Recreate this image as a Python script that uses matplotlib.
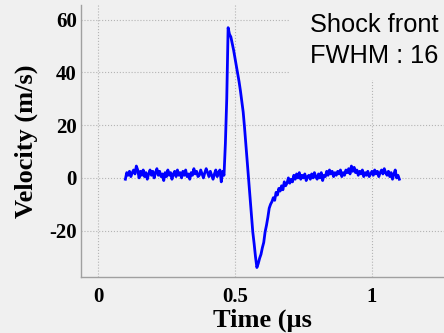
import numpy as np
import matplotlib
matplotlib.use("Agg")
import matplotlib.pyplot as plt
from matplotlib.patches import Rectangle

# velocity trace (m/s), sampled every 5 ns from 0.1 to 1.1 us
velocity = [
    -0.5, 2.0, 1.0, 2.5, 0.5, 2.0, 3.0, 1.5, 4.5, 3.0,
    0.0, 2.5, 1.0, 3.0, 0.5, 2.0, -0.5, 1.5, 3.0, 1.0,
    2.5, 0.0, 2.0, 3.5, 1.0, 2.5, 0.5, 1.5, -1.0, 2.0,
    0.5, 3.0, 1.0, 2.0, -0.5, 1.5, 2.5, 0.5, 3.0, 1.0,
    2.0, 0.0, 2.5, 1.0, 3.0, 0.5, 1.5, -0.5, 2.0, 1.0,
    3.5, 1.5, 2.5, 0.5, 1.0, 3.0, 1.5, 0.0, 2.0, 3.5,
    2.0, 0.5, 2.5, 1.0, -0.5, 1.5, 3.0, 0.5, 2.0, 3.0,
    -1.5, 2.5, 1.0, 13.0, 30.0, 57.0, 54.5, 53.5, 51.0, 48.5,
    45.5, 42.5, 39.5, 36.5, 33.0, 29.0, 25.0, 19.0, 12.5, 6.0,
    0.0, -6.5, -14.0, -20.5, -25.0, -30.0, -34.0, -32.5, -30.5, -29.0,
    -26.5, -24.5, -20.5, -18.0, -15.0, -11.5, -10.0, -9.0, -7.5, -8.5,
    -5.5, -6.5, -4.0, -5.0, -3.0, -4.5, -1.5, -3.0, -2.0, 0.0,
    -2.0, -0.5, -1.5, 1.0, -0.5, 1.5, 0.0, 2.0, -0.5, 1.0,
    0.0, 1.5, -1.0, 0.5, 1.0, -0.5, 1.5, 0.0, 2.0, 0.5,
    -0.5, 1.5, 0.0, 2.0, -1.0, 1.0, 0.5, 2.5, 1.0, 3.0,
    1.5, 2.5, 0.5, 2.0, 1.0, 2.5, 1.5, 3.0, 0.5, 2.0,
    1.0, 3.0, 2.0, 3.5, 1.5, 4.5, 2.5, 4.0, 2.0, 3.0,
    1.0, 2.5, 1.5, 3.0, 0.5, 2.0, 1.0, 2.5, 0.5, 1.5,
    2.5, 1.0, 3.0, 1.5, 2.5, 0.5, 2.0, 3.0, 1.5, 3.5,
    2.0, 1.0, 2.5, 0.5, 2.0, -0.5, 1.5, 3.0, 0.0, 1.0,
    -0.5,
]
time_us = np.linspace(0.1, 1.1, len(velocity))

x_ticks = [0, 0.5, 1]
x_tick_labels = ["0", "0.5", "1"]
y_ticks = [-20, 0, 20, 40, 60]
y_tick_labels = ["-20", "0", "20", "40", "60"]

note_lines = ["Shock front", "FWHM : 16"]

bg = "#f0f0f0"
W, H = 444, 333

fig = plt.figure(figsize=(W / 100, H / 100), dpi=100, facecolor=bg)
ax = fig.add_axes([81 / W, 56 / H, 1 - 81 / W, 272 / H])
ax.set_facecolor("none")

ax.plot(time_us, velocity, color="#0000ff", linewidth=2.0)

ax.set_xlim(-0.062, 1.263)
ax.set_ylim(-37.6, 65.6)

ax.set_xticks(x_ticks)
ax.set_xticklabels(x_tick_labels)
ax.set_yticks(y_ticks)
ax.set_yticklabels(y_tick_labels)

serif_bold = dict(family="Liberation Serif", weight="bold")
for lbl in ax.get_xticklabels() + ax.get_yticklabels():
    lbl.set_fontfamily("Liberation Serif")
    lbl.set_fontweight("bold")
    lbl.set_fontsize(15)
ax.tick_params(axis="both", length=0)
ax.tick_params(axis="x", pad=7)
ax.tick_params(axis="y", pad=3)

ax.set_xlabel("Time (\u00b5s", fontsize=19, labelpad=1, **serif_bold)
ax.set_ylabel("Velocity (m/s)", fontsize=19, labelpad=8, **serif_bold)

ax.grid(True, linestyle=":", color="#b4b4b4", linewidth=0.8)
ax.set_axisbelow(True)

for side in ["top", "right"]:
    ax.spines[side].set_visible(False)
for side in ["left", "bottom"]:
    ax.spines[side].set_color("#a0a0a0")
    ax.spines[side].set_linewidth(1.0)

# box behind the annotation hides the grid there
fig.patches.append(Rectangle((289 / W, (H - 80) / H), 1.0, 80 / H,
                             transform=fig.transFigure, facecolor=bg,
                             edgecolor="none", zorder=2))

fig.text(310 / W, (H - 32) / H, note_lines[0], fontsize=18.3,
         family="Liberation Sans", va="baseline", ha="left", zorder=3)
fig.text(310 / W, (H - 63) / H, note_lines[1], fontsize=18.3,
         family="Liberation Sans", va="baseline", ha="left", zorder=3)

fig.savefig("out.png", dpi=100, facecolor=bg)
